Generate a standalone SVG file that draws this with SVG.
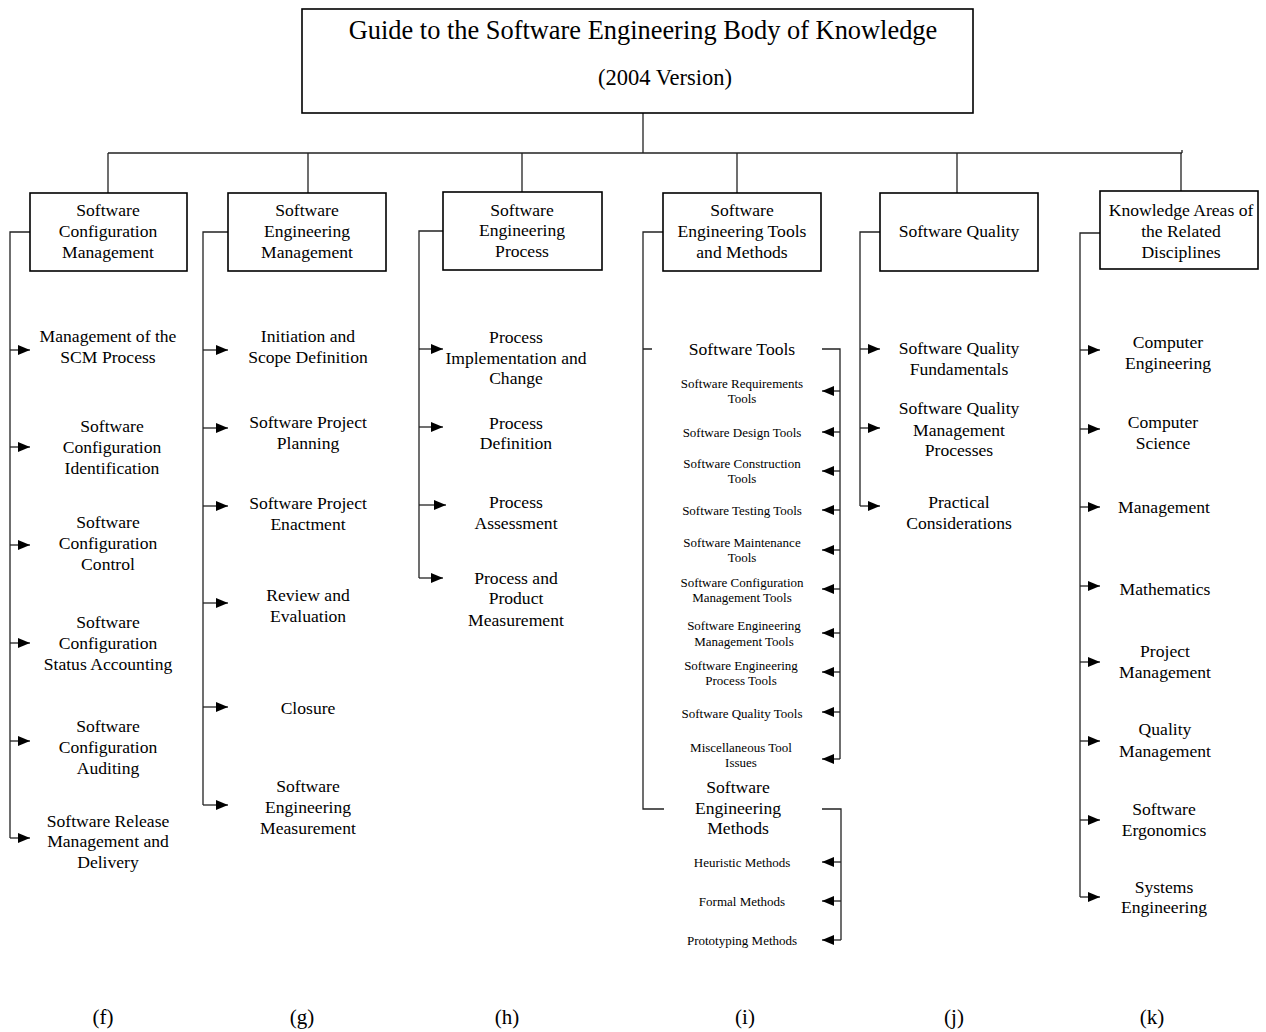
<svg xmlns="http://www.w3.org/2000/svg" width="1266" height="1032" viewBox="0 0 1266 1032">
<defs>
<marker id="ah" markerUnits="userSpaceOnUse" markerWidth="13" markerHeight="12" refX="12" refY="6" orient="auto">
<path d="M0,1 L12,6 L0,11 Z" fill="#000"/>
</marker>
<style>
text{font-family:"Liberation Serif","Times New Roman",serif;fill:#000;text-anchor:middle;dominant-baseline:central}
.t{font-size:17.6px}
.s{font-size:13px}
.h{font-size:26.4px}
.v{font-size:22.5px}
.lab{font-size:21px}
.box{fill:#fff;stroke:#000;stroke-width:1.6}
.ln{fill:none;stroke:#222;stroke-width:1.3}
.ar{fill:none;stroke:#222;stroke-width:1.3;marker-end:url(#ah)}
</style>
</defs>
<rect width="1266" height="1032" fill="#fff"/>

<g id="connectors">
<path class="ln" d="M643,113 V153 M108,153 H1182 M1182,150 V153"/>
<path class="ln" d="M108,153 V193 M308,153 V193 M522,153 V192 M737,153 V193 M957,153 V193 M1181,153 V191"/>
<!-- f -->
<path class="ln" d="M30,232 H10 V838"/>
<line class="ar" x1="10" y1="350" x2="30" y2="350"/>
<line class="ar" x1="10" y1="447" x2="30" y2="447"/>
<line class="ar" x1="10" y1="545" x2="30" y2="545"/>
<line class="ar" x1="10" y1="643" x2="30" y2="643"/>
<line class="ar" x1="10" y1="741" x2="30" y2="741"/>
<line class="ar" x1="10" y1="838" x2="30" y2="838"/>
<!-- g -->
<path class="ln" d="M228,232 H203 V805"/>
<line class="ar" x1="203" y1="350" x2="228" y2="350"/>
<line class="ar" x1="203" y1="428" x2="228" y2="428"/>
<line class="ar" x1="203" y1="506" x2="228" y2="506"/>
<line class="ar" x1="203" y1="603" x2="228" y2="603"/>
<line class="ar" x1="203" y1="707" x2="228" y2="707"/>
<line class="ar" x1="203" y1="805" x2="228" y2="805"/>
<!-- h -->
<path class="ln" d="M443,231 H419 V578"/>
<line class="ar" x1="419" y1="349" x2="443" y2="349"/>
<line class="ar" x1="419" y1="427" x2="443" y2="427"/>
<line class="ar" x1="419" y1="505" x2="446" y2="505"/>
<line class="ar" x1="419" y1="578" x2="443" y2="578"/>
<!-- i -->
<path class="ln" d="M663,232 H643 V809 H664 M643,349 H652"/>
<path class="ln" d="M822,349 H840 V759"/>
<line class="ar" x1="840" y1="391" x2="822" y2="391"/>
<line class="ar" x1="840" y1="432" x2="822" y2="432"/>
<line class="ar" x1="840" y1="471" x2="822" y2="471"/>
<line class="ar" x1="840" y1="510" x2="822" y2="510"/>
<line class="ar" x1="840" y1="550" x2="822" y2="550"/>
<line class="ar" x1="840" y1="589" x2="822" y2="589"/>
<line class="ar" x1="840" y1="633" x2="822" y2="633"/>
<line class="ar" x1="840" y1="672" x2="822" y2="672"/>
<line class="ar" x1="840" y1="712" x2="822" y2="712"/>
<line class="ar" x1="840" y1="759" x2="822" y2="759"/>
<path class="ln" d="M822,809 H841 V940"/>
<line class="ar" x1="841" y1="862" x2="822" y2="862"/>
<line class="ar" x1="841" y1="901" x2="822" y2="901"/>
<line class="ar" x1="841" y1="940" x2="822" y2="940"/>
<!-- j -->
<path class="ln" d="M880,232 H860 V506"/>
<line class="ar" x1="860" y1="349" x2="880" y2="349"/>
<line class="ar" x1="860" y1="428" x2="880" y2="428"/>
<line class="ar" x1="860" y1="506" x2="880" y2="506"/>
<!-- k -->
<path class="ln" d="M1100,233 H1080 V897"/>
<line class="ar" x1="1080" y1="350" x2="1100" y2="350"/>
<line class="ar" x1="1080" y1="429" x2="1100" y2="429"/>
<line class="ar" x1="1080" y1="507" x2="1100" y2="507"/>
<line class="ar" x1="1080" y1="586" x2="1100" y2="586"/>
<line class="ar" x1="1080" y1="662" x2="1100" y2="662"/>
<line class="ar" x1="1080" y1="741" x2="1100" y2="741"/>
<line class="ar" x1="1080" y1="820" x2="1100" y2="820"/>
<line class="ar" x1="1080" y1="897" x2="1100" y2="897"/>
</g>

<g id="root">
<rect class="box" x="302" y="9" width="671" height="104"/>
<text class="h" x="643" y="30">Guide to the Software Engineering Body of Knowledge</text>
<text class="v" x="665" y="77">(2004 Version)</text>
</g>

<g id="f">
<rect class="box" x="30" y="193" width="157" height="78"/>
<text class="t" x="108" y="210">Software</text>
<text class="t" x="108" y="231">Configuration</text>
<text class="t" x="108" y="252">Management</text>
</g>
<g id="g">
<rect class="box" x="228" y="193" width="158" height="78"/>
<text class="t" x="307" y="210">Software</text>
<text class="t" x="307" y="231">Engineering</text>
<text class="t" x="307" y="252">Management</text>
</g>
<g id="h">
<rect class="box" x="443" y="192" width="159" height="78"/>
<text class="t" x="522" y="210">Software</text>
<text class="t" x="522" y="230">Engineering</text>
<text class="t" x="522" y="251">Process</text>
</g>
<g id="i">
<rect class="box" x="663" y="193" width="158" height="78"/>
<text class="t" x="742" y="210">Software</text>
<text class="t" x="742" y="231">Engineering Tools</text>
<text class="t" x="742" y="252">and Methods</text>
</g>
<g id="j">
<rect class="box" x="880" y="193" width="158" height="78"/>
<text class="t" x="959" y="231">Software Quality</text>
</g>
<g id="k">
<rect class="box" x="1100" y="191" width="158" height="78"/>
<text class="t" x="1181" y="210">Knowledge Areas of</text>
<text class="t" x="1181" y="231">the Related</text>
<text class="t" x="1181" y="252">Disciplines</text>
</g>

<g id="f-items">
<text class="t" x="108" y="336">Management of the</text>
<text class="t" x="108" y="357">SCM Process</text>
<text class="t" x="112" y="426">Software</text>
<text class="t" x="112" y="447">Configuration</text>
<text class="t" x="112" y="468">Identification</text>
<text class="t" x="108" y="522">Software</text>
<text class="t" x="108" y="543">Configuration</text>
<text class="t" x="108" y="564">Control</text>
<text class="t" x="108" y="622">Software</text>
<text class="t" x="108" y="643">Configuration</text>
<text class="t" x="108" y="664">Status Accounting</text>
<text class="t" x="108" y="726">Software</text>
<text class="t" x="108" y="747">Configuration</text>
<text class="t" x="108" y="768">Auditing</text>
<text class="t" x="108" y="821">Software Release</text>
<text class="t" x="108" y="841">Management and</text>
<text class="t" x="108" y="862">Delivery</text>
</g>

<g id="g-items">
<text class="t" x="308" y="336">Initiation and</text>
<text class="t" x="308" y="357">Scope Definition</text>
<text class="t" x="308" y="422">Software Project</text>
<text class="t" x="308" y="443">Planning</text>
<text class="t" x="308" y="503">Software Project</text>
<text class="t" x="308" y="524">Enactment</text>
<text class="t" x="308" y="595">Review and</text>
<text class="t" x="308" y="616">Evaluation</text>
<text class="t" x="308" y="708">Closure</text>
<text class="t" x="308" y="786">Software</text>
<text class="t" x="308" y="807">Engineering</text>
<text class="t" x="308" y="828">Measurement</text>
</g>

<g id="h-items">
<text class="t" x="516" y="337">Process</text>
<text class="t" x="516" y="358">Implementation and</text>
<text class="t" x="516" y="378">Change</text>
<text class="t" x="516" y="423">Process</text>
<text class="t" x="516" y="443">Definition</text>
<text class="t" x="516" y="502">Process</text>
<text class="t" x="516" y="523">Assessment</text>
<text class="t" x="516" y="578">Process and</text>
<text class="t" x="516" y="598">Product</text>
<text class="t" x="516" y="620">Measurement</text>
</g>

<g id="i-items">
<text class="t" x="742" y="349">Software Tools</text>
<text class="s" x="742" y="383">Software Requirements</text>
<text class="s" x="742" y="398">Tools</text>
<text class="s" x="742" y="432">Software Design Tools</text>
<text class="s" x="742" y="463">Software Construction</text>
<text class="s" x="742" y="478">Tools</text>
<text class="s" x="742" y="510">Software Testing Tools</text>
<text class="s" x="742" y="542">Software Maintenance</text>
<text class="s" x="742" y="557">Tools</text>
<text class="s" x="742" y="582">Software Configuration</text>
<text class="s" x="742" y="597">Management Tools</text>
<text class="s" x="744" y="625">Software Engineering</text>
<text class="s" x="744" y="641">Management Tools</text>
<text class="s" x="741" y="665">Software Engineering</text>
<text class="s" x="741" y="680">Process Tools</text>
<text class="s" x="742" y="713">Software Quality Tools</text>
<text class="s" x="741" y="747">Miscellaneous Tool</text>
<text class="s" x="741" y="762">Issues</text>
<text class="t" x="738" y="787">Software</text>
<text class="t" x="738" y="808">Engineering</text>
<text class="t" x="738" y="828">Methods</text>
<text class="s" x="742" y="862">Heuristic Methods</text>
<text class="s" x="742" y="901">Formal Methods</text>
<text class="s" x="742" y="940">Prototyping Methods</text>
</g>

<g id="j-items">
<text class="t" x="959" y="348">Software Quality</text>
<text class="t" x="959" y="369">Fundamentals</text>
<text class="t" x="959" y="408">Software Quality</text>
<text class="t" x="959" y="430">Management</text>
<text class="t" x="959" y="450">Processes</text>
<text class="t" x="959" y="502">Practical</text>
<text class="t" x="959" y="523">Considerations</text>
</g>

<g id="k-items">
<text class="t" x="1168" y="342">Computer</text>
<text class="t" x="1168" y="363">Engineering</text>
<text class="t" x="1163" y="422">Computer</text>
<text class="t" x="1163" y="443">Science</text>
<text class="t" x="1164" y="507">Management</text>
<text class="t" x="1165" y="589">Mathematics</text>
<text class="t" x="1165" y="651">Project</text>
<text class="t" x="1165" y="672">Management</text>
<text class="t" x="1165" y="729">Quality</text>
<text class="t" x="1165" y="751">Management</text>
<text class="t" x="1164" y="809">Software</text>
<text class="t" x="1164" y="830">Ergonomics</text>
<text class="t" x="1164" y="887">Systems</text>
<text class="t" x="1164" y="907">Engineering</text>
</g>

<g id="labels">
<text class="lab" x="103" y="1017">(f)</text>
<text class="lab" x="302" y="1017">(g)</text>
<text class="lab" x="507" y="1017">(h)</text>
<text class="lab" x="745" y="1017">(i)</text>
<text class="lab" x="954" y="1017">(j)</text>
<text class="lab" x="1152" y="1017">(k)</text>
</g>
</svg>
